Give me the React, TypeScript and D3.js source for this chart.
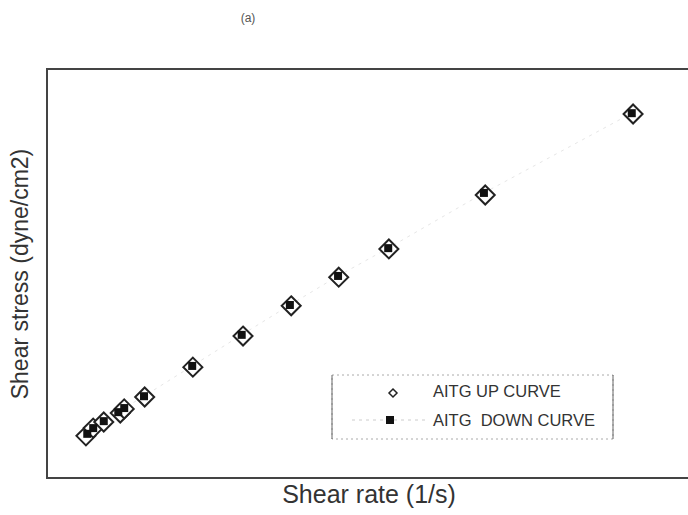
import React from "react";
import * as d3 from "d3";

// Shear rate (arbitrary units, no ticks shown)
const upRate = [59, 70, 86, 111, 117, 148, 221, 297, 370, 442, 518, 664, 888];
const upStress = [103, 122, 137, 159, 169, 198, 271, 347, 421, 491, 560, 692, 890];
const downRate = [61, 70, 86, 108, 117, 147, 220, 295, 368, 441, 517, 662, 886];
const downStress = [108, 122, 139, 161, 171, 200, 274, 350, 423, 494, 562, 697, 892];
const legendLabels = ["AITG UP CURVE", "AITG  DOWN CURVE"];

const W = 688;
const H = 515;
const left = 47;
const top = 69;
const bottom = 478;
const right = 707;

export default function App() {
  const x = d3.scaleLinear().domain([0, 1000]).range([left, right]);
  const y = d3.scaleLinear().domain([0, 1000]).range([bottom, top]);
  const up = upRate.map((r, i) => ({ x: r, y: upStress[i] }));
  const down = downRate.map((r, i) => ({ x: r, y: downStress[i] }));
  const line = d3
    .line<{ x: number; y: number }>()
    .x((d) => x(d.x))
    .y((d) => y(d.y));
  const diamond = (cx: number, cy: number, r: number) =>
    `M${cx},${cy - r}L${cx + r},${cy}L${cx},${cy + r}L${cx - r},${cy}Z`;
  const font = "Arial, 'Liberation Sans', sans-serif";
  return (
    <svg
      width={W}
      height={H}
      style={{ position: "absolute", left: 0, top: 0, background: "#fff" }}
    >
      <text x={248} y={22} fontSize={12} fill="#555" textAnchor="middle" fontFamily={font}>
        (a)
      </text>
      <path d={line(down) || ""} fill="none" stroke="#e6e6e6" strokeWidth={1} strokeDasharray="3,5" />
      <rect x={left} y={top} width={right - left} height={bottom - top} fill="none" stroke="#444" strokeWidth={2} />
      {up.map((d, i) => (
        <path key={"u" + i} d={diamond(x(d.x), y(d.y), 9.5)} fill="#fff" stroke="#222" strokeWidth={2} />
      ))}
      {down.map((d, i) => (
        <rect key={"d" + i} x={x(d.x) - 4} y={y(d.y) - 4} width={8} height={8} fill="#111" />
      ))}
      <g>
        <rect x={332} y={375} width={281} height={64} fill="#fff" stroke="#aaa" strokeWidth={1} strokeDasharray="2,3" />
        <line x1={332} y1={375} x2={332} y2={439} stroke="#666" strokeWidth={1} />
        <line x1={613} y1={375} x2={613} y2={439} stroke="#666" strokeWidth={1} />
        <path d={diamond(393, 393, 4)} fill="#fff" stroke="#222" strokeWidth={1.5} />
        <line x1={352} y1={420} x2={425} y2={420} stroke="#ccc" strokeWidth={1} strokeDasharray="3,4" />
        <rect x={386} y={416} width={8} height={8} fill="#111" />
        <text x={433} y={397} fontSize={16.5} fill="#333" fontFamily={font}>
          {legendLabels[0]}
        </text>
        <text x={433} y={426} fontSize={16.5} fill="#333" fontFamily={font} style={{ whiteSpace: "pre" }}>
          {legendLabels[1]}
        </text>
      </g>
      <text x={369} y={503} fontSize={25} fill="#333" textAnchor="middle" fontFamily={font}>
        Shear rate (1/s)
      </text>
      <text
        transform="translate(28,274) rotate(-90)"
        fontSize={23}
        fill="#333"
        textAnchor="middle"
        fontFamily={font}
      >
        Shear stress (dyne/cm2)
      </text>
    </svg>
  );
}
